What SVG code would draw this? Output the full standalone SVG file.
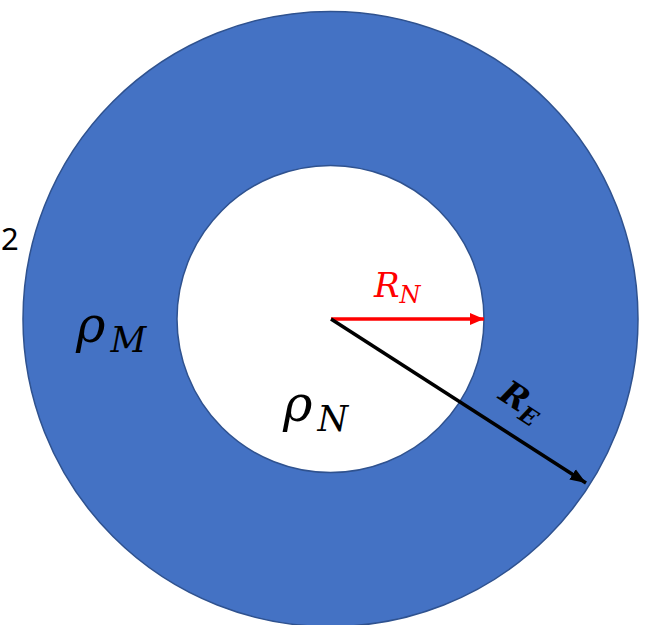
<svg xmlns="http://www.w3.org/2000/svg" width="648" height="625" viewBox="0 0 648 625">
<style>
.math{font-family:"DejaVu Serif","Liberation Serif",serif;font-style:italic;}
.num{font-family:"Noto Sans","DejaVu Sans",sans-serif;font-size:31px;fill:#000;}
</style>
<defs>
<marker id="hr" markerUnits="userSpaceOnUse" markerWidth="14" markerHeight="14" viewBox="0 0 14 14" refX="14" refY="7" orient="auto"><path d="M0,1 L14,7 L0,13 Z" fill="#FF0000"/></marker>
<marker id="hk" markerUnits="userSpaceOnUse" markerWidth="16" markerHeight="14" viewBox="0 0 16 14" refX="16" refY="7" orient="auto"><path d="M0,1 L16,7 L0,13 Z" fill="#000"/></marker>
</defs>
<rect width="648" height="625" fill="#fff"/>
<g id="annulus">
<path d="M23,319 A307.5,307.5 0 1,0 638,319 A307.5,307.5 0 1,0 23,319 Z M177,319 A153.5,153.5 0 1,0 484,319 A153.5,153.5 0 1,0 177,319 Z" fill="#4472C4" fill-rule="evenodd" stroke="#2F528F" stroke-width="1.5"/>
</g>
<g id="connectors">
<line x1="331" y1="319" x2="484" y2="319" stroke="#FF0000" stroke-width="3.5" marker-end="url(#hr)"/>
<line x1="331" y1="319" x2="586" y2="483" stroke="#000" stroke-width="3.5" marker-end="url(#hk)"/>
</g>
<g id="label-2"><text class="num" x="1" y="250">2</text></g>
<g id="label-rhoM"><text class="math" x="76" y="342" font-size="50">ρ<tspan font-size="35" dx="5" dy="10">M</tspan></text></g>
<g id="label-rhoN"><text class="math" x="283" y="421" font-size="50">ρ<tspan font-size="35" dx="5" dy="10">N</tspan></text></g>
<g id="label-RN"><text class="math" x="374" y="297" font-size="34" fill="#FF0000">R<tspan font-size="24" dy="6">N</tspan></text></g>
<g id="label-RE"><text class="math" x="497" y="398" font-size="33" font-weight="bold" transform="rotate(33 497 398)">R<tspan font-size="23" dy="6">E</tspan></text></g>
</svg>
